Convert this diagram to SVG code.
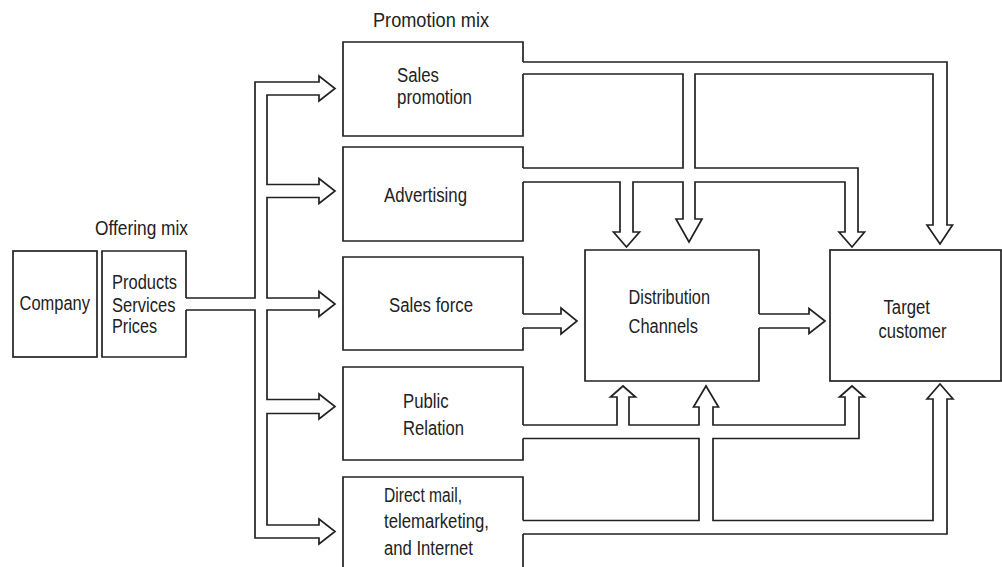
<svg xmlns="http://www.w3.org/2000/svg" width="1002" height="567" viewBox="0 0 1002 567">
<style>
.ln{fill:none;stroke:#222;stroke-width:1.7;stroke-linejoin:miter}
.t{font-family:"Liberation Sans",Arial,sans-serif;font-size:20px;fill:#222}
</style>
<rect width="1002" height="567" fill="#fff"/>
<text class="t" x="373" y="27" textLength="116" lengthAdjust="spacingAndGlyphs">Promotion mix</text>
<text class="t" x="95" y="235" textLength="93" lengthAdjust="spacingAndGlyphs">Offering mix</text>
<g id="company">
<rect class="ln" x="13" y="251" width="84" height="106"/>
<text class="t" x="19.5" y="309.5" textLength="70.5" lengthAdjust="spacingAndGlyphs">Company</text>
</g>
<g id="offering">
<path class="ln" d="M186,298 V251 H102 V357 H186 V310"/>
<text class="t" x="112" y="289" textLength="65" lengthAdjust="spacingAndGlyphs">Products</text>
<text class="t" x="112" y="311.5" textLength="63.5" lengthAdjust="spacingAndGlyphs">Services</text>
<text class="t" x="112" y="333" textLength="45" lengthAdjust="spacingAndGlyphs">Prices</text>
</g>
<g id="sales-promotion">
<path class="ln" d="M523,62 V42 H343 V136 H523 V74"/>
<text class="t" x="397" y="82" textLength="42" lengthAdjust="spacingAndGlyphs">Sales</text>
<text class="t" x="397" y="104" textLength="75" lengthAdjust="spacingAndGlyphs">promotion</text>
</g>
<g id="advertising">
<path class="ln" d="M523,168 V147 H343 V241 H523 V182"/>
<text class="t" x="384" y="202" textLength="83" lengthAdjust="spacingAndGlyphs">Advertising</text>
</g>
<g id="sales-force">
<path class="ln" d="M523,314 V257 H343 V350 H523 V328"/>
<text class="t" x="389" y="311.5" textLength="84" lengthAdjust="spacingAndGlyphs">Sales force</text>
</g>
<g id="public-relation">
<path class="ln" d="M523,425 V367 H343 V460 H523 V438.5"/>
<text class="t" x="403" y="408" textLength="45.5" lengthAdjust="spacingAndGlyphs">Public</text>
<text class="t" x="403" y="435" textLength="61" lengthAdjust="spacingAndGlyphs">Relation</text>
</g>
<g id="direct-mail">
<path class="ln" d="M523,520.5 V477 H343 V570 M523,534 V570"/>
<text class="t" x="384" y="502" textLength="78" lengthAdjust="spacingAndGlyphs">Direct mail,</text>
<text class="t" x="384" y="528" textLength="105" lengthAdjust="spacingAndGlyphs">telemarketing,</text>
<text class="t" x="384" y="555" textLength="89" lengthAdjust="spacingAndGlyphs">and Internet</text>
</g>
<g id="distribution">
<path class="ln" d="M759,314 V250 H585 V381 H759 V328"/>
<text class="t" x="628.5" y="304" textLength="81.5" lengthAdjust="spacingAndGlyphs">Distribution</text>
<text class="t" x="628.5" y="333" textLength="69.5" lengthAdjust="spacingAndGlyphs">Channels</text>
</g>
<g id="target">
<rect class="ln" x="830" y="250" width="171" height="131"/>
<text class="t" x="883.5" y="314" textLength="46.5" lengthAdjust="spacingAndGlyphs">Target</text>
<text class="t" x="878.5" y="338" textLength="68" lengthAdjust="spacingAndGlyphs">customer</text>
</g>
<g id="connectors">
<path class="ln" d="M186,298 H255 V82 H319 V76 L335,88.5 L319,101 V95 H267 V184.5 H319 V178.5 L335,191 L319,203.5 V197.5 H267 V298 H319 V291.5 L335,304 L319,316.5 V310 H267 V399.5 H319 V394 L335,406.5 L319,419 V413.5 H267 V525 H319 V519 L335,531.5 L319,544 V538 H255 V310 H186"/>
<path class="ln" d="M523,62 H947 V225 H952.5 L940,244 L927,225 H933 V74 H695 V168 H858 V232 H864.5 L852,247 L839,232 H845 V182 H695 V219 H702 L689,242 L676,219 H683 V182 H633 V232 H639.5 L626.5,247 L613.5,232 H620 V182 H523"/>
<path class="ln" d="M523,74 H683 V168 H523"/>
<path class="ln" d="M523,314 H561 V308 L577,321 L561,334 V328 H523"/>
<path class="ln" d="M759,314 H809 V308.5 L825,321 L809,333.5 V328 H759"/>
<path class="ln" d="M523,425 H617 V397 H610.5 L623,386 L635.5,397 H629 V425 H699 V407 H693.5 L706,386 L718.5,407 H713 V425 H845 V397 H839.5 L852,386 L864.5,397 H859 V438.5 H713 V520.5 H933 V399 H927 L940,384 L953,399 H947 V534 H523"/>
<path class="ln" d="M523,438.5 H699 V520.5 H523"/>
</g>
</svg>
